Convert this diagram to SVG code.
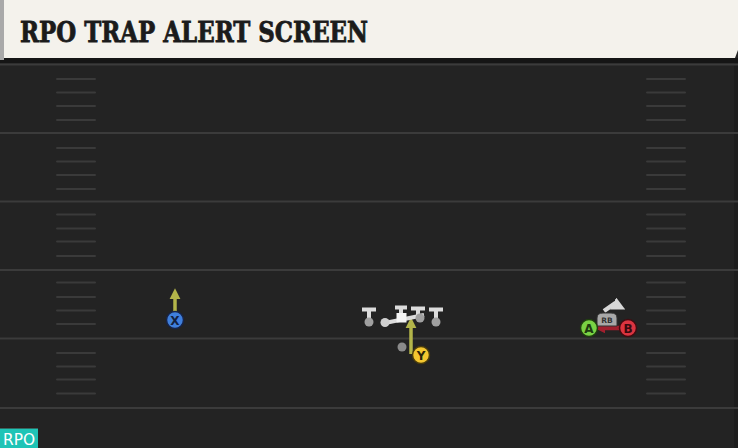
<svg xmlns="http://www.w3.org/2000/svg" width="738" height="448" viewBox="0 0 738 448">
<defs>
<style>
.yard{stroke:#3b3b3b;stroke-width:2}
.hash{stroke:#3a3a3a;stroke-width:2;stroke-linecap:round}
.blk{stroke:#dcdcdc;stroke-width:4;fill:none}
.ol{fill:#a0a0a0}
.route{stroke:#b3b54a;stroke-width:3.5;fill:none}
.lbl{font-family:"DejaVu Sans","Liberation Sans",sans-serif;font-weight:bold;text-anchor:middle}
</style>
<marker id="ah" viewBox="0 0 10 10" refX="4" refY="5" markerWidth="3.2" markerHeight="3.2" orient="auto">
<path d="M0,0 L10,5 L0,10 Z" fill="#b3b54a"/>
</marker>
<marker id="ahw" viewBox="0 0 10 10" refX="4" refY="5" markerWidth="3" markerHeight="3" orient="auto">
<path d="M0,0 L10,5 L0,10 Z" fill="#d8d8d8"/>
</marker>
<marker id="ahr" viewBox="0 0 10 10" refX="4" refY="5" markerWidth="2.4" markerHeight="2.4" orient="auto">
<path d="M0,0 L10,5 L0,10 Z" fill="#a11f2e"/>
</marker>
</defs>
<rect width="738" height="448" fill="#232323"/>
<rect x="734" y="60" width="4" height="388" fill="#1d1d1d"/>
<g id="field">
<line class="yard" x1="0" y1="64.5" x2="738" y2="64.5"/>
<line class="yard" x1="0" y1="133" x2="738" y2="133"/>
<line class="yard" x1="0" y1="201.5" x2="738" y2="201.5"/>
<line class="yard" x1="0" y1="270" x2="738" y2="270"/>
<line class="yard" x1="0" y1="338.5" x2="738" y2="338.5"/>
<line class="yard" x1="0" y1="408" x2="738" y2="408"/>
<g id="hashes">
<path class="hash" d="M57 79H95M57 92.5H95M57 106H95M57 120H95M57 148H95M57 161.5H95M57 175H95M57 189H95M57 214.5H95M57 228.5H95M57 241.5H95M57 256H95M57 282.5H95M57 297H95M57 310.5H95M57 324H95M57 353H95M57 366.5H95M57 379.5H95M57 393.5H95"/>
<path class="hash" d="M647 79H685M647 92.5H685M647 106H685M647 120H685M647 148H685M647 161.5H685M647 175H685M647 189H685M647 214.5H685M647 228.5H685M647 241.5H685M647 256H685M647 282.5H685M647 297H685M647 310.5H685M647 324H685M647 353H685M647 366.5H685M647 379.5H685M647 393.5H685"/>
</g>
</g>
<g id="banner">
<rect x="0" y="58" width="738" height="5" fill="#151515"/>
<path d="M4 0H738V50L735 58H4Z" fill="#f4f2ec"/>
<rect x="0" y="0" width="4" height="60" fill="#a9a9a9"/>
<text x="20" y="42" font-family="'DejaVu Serif','Liberation Serif',serif" font-weight="bold" font-size="27" textLength="348" lengthAdjust="spacingAndGlyphs" fill="#1b1b1b" stroke="#1b1b1b" stroke-width="0.8">RPO TRAP ALERT SCREEN</text>
</g>
<g id="connectors">
<line class="route" x1="175" y1="312" x2="175" y2="295" marker-end="url(#ah)"/>
<line class="route" x1="411" y1="354" x2="411" y2="324" marker-end="url(#ah)"/>
<path d="M385 323 L424 315" class="blk"/>
<path d="M604 311 L614 304 L618 306" stroke="#d8d8d8" stroke-width="4.5" fill="none" marker-end="url(#ahw)"/>
<line x1="621" y1="328" x2="601" y2="328" stroke="#a11f2e" stroke-width="4.5" marker-end="url(#ahr)"/>
</g>
<g id="line-left-tackle">
<path class="blk" d="M362 309.5H376M369 309.5V320"/>
<circle class="ol" cx="369" cy="322" r="4.5"/>
</g>
<g id="line-left-guard">
<circle cx="385" cy="322.5" r="4.5" fill="#d0d0d0"/>
</g>
<g id="line-center">
<path class="blk" d="M395 307.5H407M401 307.5V314"/>
<rect x="396.5" y="313" width="10" height="9.5" fill="#f4f4f4"/>
</g>
<g id="line-right-guard">
<path class="blk" d="M411 308.5H425M418 308.5V318"/>
<circle class="ol" cx="420" cy="318" r="4.5"/>
</g>
<g id="line-right-tackle">
<path class="blk" d="M429 309.5H443M436 309.5V320"/>
<circle class="ol" cx="436" cy="322" r="4.5"/>
</g>
<g id="qb">
<circle cx="402" cy="347" r="4.5" fill="#8a8a8a"/>
</g>
<g id="x">
<circle cx="175" cy="320" r="8.5" fill="#3f7fdc" stroke="#16244a" stroke-width="1.5"/>
<text class="lbl" x="175" y="325" font-size="12" fill="#13213f">X</text>
</g>
<g id="y">
<circle cx="421" cy="355" r="8.5" fill="#f3c630" stroke="#4a3c0c" stroke-width="1.5"/>
<text class="lbl" x="421" y="360" font-size="12" fill="#2a2208">Y</text>
</g>
<g id="rb">
<path d="M597 326V318Q597 313 603 313H611Q617 313 617 318V326Z" fill="#a8a8a8" stroke="#333" stroke-width="1"/>
<text class="lbl" x="607" y="323" font-size="7.5" fill="#333">RB</text>
</g>
<g id="a">
<circle cx="589" cy="328" r="8.5" fill="#79d244" stroke="#1f3e0f" stroke-width="1.5"/>
<text class="lbl" x="589" y="333" font-size="12" fill="#1e3a10">A</text>
</g>
<g id="b">
<circle cx="628" cy="328" r="8.5" fill="#dc3440" stroke="#420b10" stroke-width="1.5"/>
<text class="lbl" x="628" y="333" font-size="12" fill="#3a0a0e">B</text>
</g>
<g id="tag">
<rect x="0" y="428" width="38" height="20" fill="#1fc4b6"/>
<line x1="0" y1="428" x2="38" y2="428" stroke="#3a1414" stroke-width="1"/>
<text x="19" y="445" font-family="'DejaVu Sans','Liberation Sans',sans-serif" font-size="15" text-anchor="middle" textLength="32" lengthAdjust="spacingAndGlyphs" fill="#ffffff">RPO</text>
</g>
</svg>
